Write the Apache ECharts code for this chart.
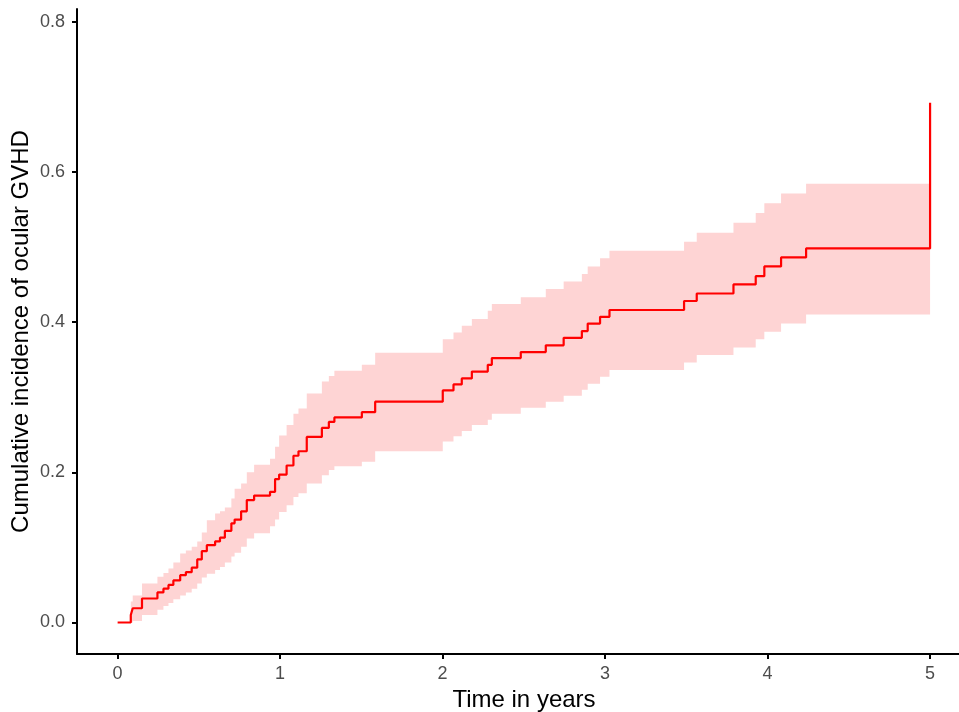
<!DOCTYPE html>
<html>
<head>
<meta charset="utf-8">
<script src="https://cdn.jsdelivr.net/npm/echarts@6/dist/echarts.min.js"></script>
<style>
html,body{margin:0;padding:0;background:#fff;}
#chart{width:959px;height:712px;}
</style>
</head>
<body>
<div id="chart"></div>
<script>
// Event times (years) and step values
const times = [0, 0.081, 0.093, 0.150, 0.245, 0.282, 0.313, 0.343, 0.385, 0.420, 0.456, 0.490, 0.518, 0.549, 0.600, 0.630, 0.660, 0.700, 0.720, 0.760, 0.795, 0.840, 0.938, 0.969, 0.994, 1.040, 1.082, 1.113, 1.164, 1.257, 1.300, 1.334, 1.503, 1.585, 2.001, 2.067, 2.118, 2.180, 2.278, 2.303, 2.481, 2.635, 2.745, 2.857, 2.893, 2.969, 3.027, 3.486, 3.564, 3.790, 3.927, 3.980, 4.083, 4.237];
const estimate = [0, 0.010, 0.019, 0.032, 0.040, 0.045, 0.050, 0.056, 0.063, 0.067, 0.073, 0.084, 0.095, 0.103, 0.108, 0.113, 0.122, 0.132, 0.137, 0.148, 0.163, 0.169, 0.174, 0.191, 0.197, 0.209, 0.222, 0.228, 0.247, 0.259, 0.267, 0.273, 0.280, 0.294, 0.309, 0.317, 0.325, 0.334, 0.343, 0.352, 0.360, 0.369, 0.379, 0.388, 0.398, 0.407, 0.416, 0.428, 0.438, 0.450, 0.461, 0.474, 0.486, 0.498];
const lower = [0, 0.000, 0.002, 0.010, 0.017, 0.022, 0.026, 0.031, 0.036, 0.040, 0.045, 0.052, 0.060, 0.065, 0.070, 0.074, 0.080, 0.088, 0.093, 0.101, 0.112, 0.119, 0.128, 0.137, 0.147, 0.156, 0.167, 0.172, 0.185, 0.196, 0.203, 0.208, 0.214, 0.228, 0.241, 0.248, 0.255, 0.263, 0.270, 0.278, 0.286, 0.294, 0.302, 0.310, 0.318, 0.327, 0.336, 0.346, 0.356, 0.366, 0.377, 0.387, 0.398, 0.410];
const upper = [0, 0.028, 0.036, 0.052, 0.061, 0.066, 0.072, 0.080, 0.092, 0.096, 0.101, 0.108, 0.120, 0.136, 0.145, 0.148, 0.153, 0.165, 0.178, 0.185, 0.200, 0.210, 0.218, 0.234, 0.249, 0.263, 0.278, 0.285, 0.305, 0.321, 0.328, 0.335, 0.343, 0.359, 0.377, 0.386, 0.395, 0.404, 0.415, 0.424, 0.433, 0.444, 0.454, 0.464, 0.474, 0.485, 0.495, 0.507, 0.519, 0.532, 0.545, 0.558, 0.571, 0.584];
const endTime = 5.0;
const finalEstimate = 0.692;
const xTicks = [0, 1, 2, 3, 4, 5];
const yTicks = [0, 0.2, 0.4, 0.6, 0.8];
const xTitle = 'Time in years';
const yTitle = 'Cumulative incidence of ocular GVHD';

const lineData = times.map((t, i) => [t, estimate[i]]);
lineData.push([endTime, finalEstimate]);

// band as one step polygon, built through the chart's coordinate system
function renderBand(params, api) {
  const top = [], bottom = [];
  const n = times.length;
  for (let i = 0; i < n; i++) {
    const t0 = times[i];
    const t1 = i + 1 < n ? times[i + 1] : endTime;
    top.push(api.coord([t0, upper[i]]));
    top.push(api.coord([t1, upper[i]]));
    bottom.push(api.coord([t0, lower[i]]));
    bottom.push(api.coord([t1, lower[i]]));
  }
  const pts = top.concat(bottom.reverse());
  return {
    type: 'polygon',
    shape: {points: pts},
    style: {fill: '#fed4d4', stroke: null},
    silent: true
  };
}

const chart = echarts.init(document.getElementById('chart'), null, {renderer: 'canvas'});
const labelFont = 'Liberation Sans, Arial, sans-serif';
chart.setOption({
  animation: false,
  backgroundColor: '#ffffff',
  grid: {left: 77, right: 0, top: 9, bottom: 58, containLabel: false, outerBoundsMode: 'none'},
  xAxis: {
    type: 'value', min: -0.25, max: 5.178,
    name: xTitle, nameLocation: 'middle', nameGap: 34, nameMoveOverlap: false,
    nameTextStyle: {color: '#000', fontSize: 24, fontFamily: labelFont, padding: [0, 0, 0, 12]},
    axisLine: {show: true, onZero: false, lineStyle: {color: '#000', width: 2}},
    axisTick: {show: true, length: 5, lineStyle: {color: '#000', width: 2}, customValues: xTicks},
    axisLabel: {color: '#4d4d4d', fontSize: 18, fontFamily: labelFont, margin: 11, customValues: xTicks},
    splitLine: {show: false}
  },
  yAxis: {
    type: 'value', min: -0.0419, max: 0.8167,
    name: yTitle, nameLocation: 'middle', nameGap: 44, nameMoveOverlap: false,
    nameTextStyle: {color: '#000', fontSize: 24, fontFamily: labelFont},
    axisLine: {show: true, onZero: false, lineStyle: {color: '#000', width: 2}},
    axisTick: {show: true, length: 5, lineStyle: {color: '#000', width: 2}, customValues: yTicks},
    axisLabel: {color: '#4d4d4d', fontSize: 18, fontFamily: labelFont, margin: 12, customValues: yTicks,
      formatter: v => v.toFixed(1)},
    splitLine: {show: false}
  },
  series: [
    {type: 'custom', data: [[0, 0]], renderItem: renderBand, silent: true, z: 1, clip: true},
    {type: 'line', data: lineData, step: 'end', symbol: 'none', silent: true,
      lineStyle: {color: '#ff0000', width: 2.2}, z: 3}
  ]
});
</script>
</body>
</html>
